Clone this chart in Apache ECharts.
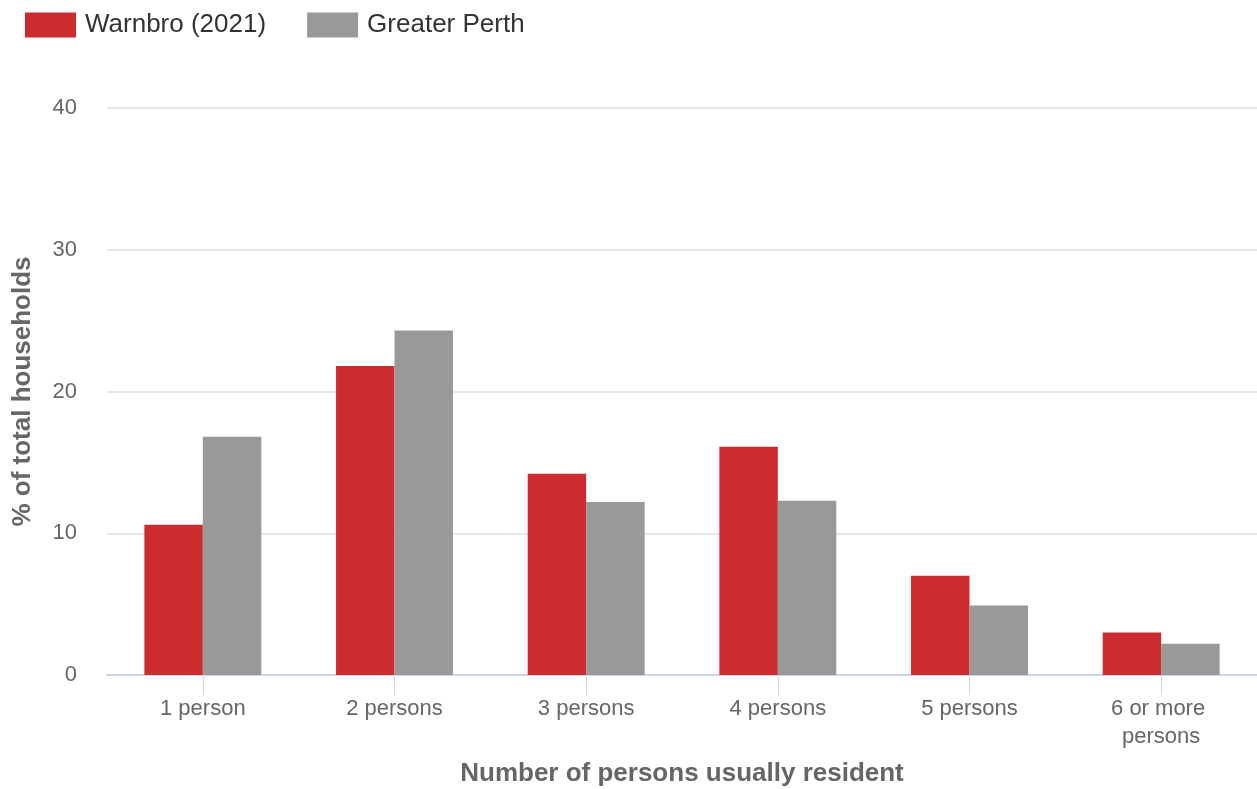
<!DOCTYPE html>
<html>
<head>
<meta charset="utf-8">
<script src="https://cdn.jsdelivr.net/npm/echarts@6/dist/echarts.min.js"></script>
<style>html,body{margin:0;padding:0;background:#fff;}#c{width:1257px;height:789px;}</style>
</head>
<body>
<div id="c"></div>
<script>
var categories = ["1 person", "2 persons", "3 persons", "4 persons", "5 persons", "6 or more persons"];
var warnbro = [10.6, 21.8, 14.2, 16.1, 7.0, 3.0];
var perth = [16.8, 24.3, 12.2, 12.3, 4.9, 2.2];
var seriesNames = ["Warnbro (2021)", "Greater Perth"];
var yTicks = {min: 0, max: 40, interval: 10};

var FONT = '"Liberation Sans", Arial, Helvetica, sans-serif';
var chart = echarts.init(document.getElementById('c'));
chart.setOption({
  animation: false,
  textStyle: {fontFamily: FONT},
  legend: {
    left: 20, top: 7, itemWidth: 51, itemHeight: 25, itemGap: 41,
    icon: 'rect',
    textStyle: {fontSize: 26, color: '#333', fontFamily: FONT, padding: [0, 0, 0, 4]},
    data: seriesNames
  },
  grid: {left: 107, right: 0, top: 108, bottom: 114, containLabel: false, outerBoundsMode: 'none'},
  xAxis: {
    type: 'category',
    data: categories,
    name: 'Number of persons usually resident',
    nameLocation: 'middle',
    nameGap: 86,
    nameTextStyle: {fontSize: 26, fontWeight: 'bold', color: '#666', fontFamily: FONT},
    axisLine: {lineStyle: {color: '#ccd6eb', width: 2}},
    axisTick: {show: true, alignWithLabel: true, length: 20, lineStyle: {color: '#ccd6eb', width: 1}},
    axisLabel: {interval: 0, fontSize: 22, color: '#666', margin: 20, width: 150, overflow: 'break', lineHeight: 28, fontFamily: FONT}
  },
  yAxis: {
    type: 'value',
    min: yTicks.min, max: yTicks.max, interval: yTicks.interval,
    name: '% of total households',
    nameLocation: 'middle',
    nameGap: 71,
    nameRotate: 90,
    nameTextStyle: {fontSize: 26, fontWeight: 'bold', color: '#666', fontFamily: FONT},
    axisLine: {show: false},
    axisTick: {show: false},
    axisLabel: {fontSize: 22, color: '#666', margin: 30, fontFamily: FONT},
    splitLine: {lineStyle: {color: '#e6e6e6', width: 2}}
  },
  series: [
    {name: seriesNames[0], type: 'bar', data: warnbro, itemStyle: {color: '#cc2c30'}, barGap: '0%', barCategoryGap: '39%'},
    {name: seriesNames[1], type: 'bar', data: perth, itemStyle: {color: '#999999'}, barGap: '0%', barCategoryGap: '39%'}
  ]
});
</script>
</body>
</html>
